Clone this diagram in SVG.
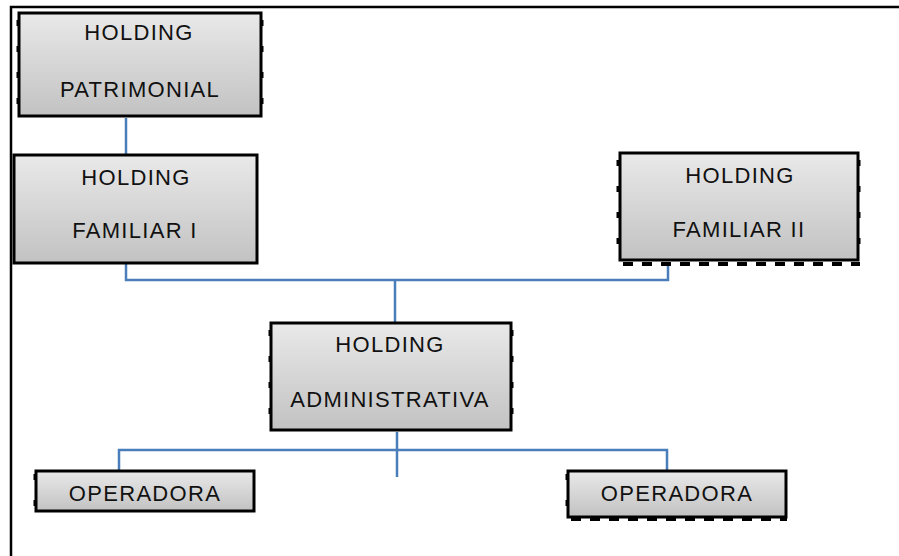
<svg xmlns="http://www.w3.org/2000/svg" width="899" height="556" viewBox="0 0 899 556">
<defs>
<linearGradient id="g" x1="0" y1="0" x2="0" y2="1">
<stop offset="0" stop-color="#e9e9e9"/>
<stop offset="1" stop-color="#c2c2c2"/>
</linearGradient>
</defs>
<style>
.box{fill:url(#g);stroke:#000;stroke-width:3}
.t{font-family:"Liberation Sans",Arial,sans-serif;font-size:22px;letter-spacing:1.3px;fill:#111;text-anchor:middle}
.c{fill:none;stroke:#4a7ebb;stroke-width:2.5}
.tick{stroke:#000;stroke-width:4;stroke-dasharray:10 9;fill:none}
.side{stroke:#000;stroke-width:3;stroke-dasharray:6 20;fill:none}
</style>
<rect width="899" height="556" fill="#fff"/>
<path d="M11,556 V7 H899" fill="none" stroke="#000" stroke-width="2.5"/>
<g id="connectors">
<path class="c" d="M126,118 V155"/>
<path class="c" d="M126,264 V280 H668 V262"/>
<path class="c" d="M395,280 V322"/>
<path class="c" d="M397,432 V477"/>
<path class="c" d="M119,471 V450 H667 V470"/>
</g>
<g id="n1">
<rect class="box" x="19" y="13" width="242" height="103"/>
<path class="side" d="M18,20 V116 M262,20 V116"/>
<text class="t" x="139" y="40">HOLDING</text>
<text class="t" x="140" y="97">PATRIMONIAL</text>
</g>
<g id="n2">
<rect class="box" x="14" y="155" width="243" height="108"/>
<text class="t" x="136" y="185">HOLDING</text>
<text class="t" x="135" y="238">FAMILIAR I</text>
</g>
<g id="n3">
<rect class="box" x="620" y="153" width="238" height="107"/>
<path class="side" d="M618,160 V262 M859,160 V262"/>
<path class="tick" d="M623,264 H860"/>
<text class="t" x="740" y="183">HOLDING</text>
<text class="t" x="739" y="237">FAMILIAR II</text>
</g>
<g id="n4">
<rect class="box" x="271" y="323" width="240" height="107"/>
<path class="side" d="M270,330 V428 M512,330 V428"/>
<text class="t" x="390" y="352">HOLDING</text>
<text class="t" x="390" y="407">ADMINISTRATIVA</text>
</g>
<g id="n5">
<rect class="box" x="36" y="471" width="218" height="40"/>
<path class="side" d="M35,474 V510"/>
<text class="t" x="145" y="501">OPERADORA</text>
</g>
<g id="n6">
<rect class="box" x="568" y="471" width="218" height="46"/>
<path class="side" d="M567,474 V518"/>
<path class="tick" d="M571,519 H787"/>
<text class="t" x="677" y="501">OPERADORA</text>
</g>
</svg>
